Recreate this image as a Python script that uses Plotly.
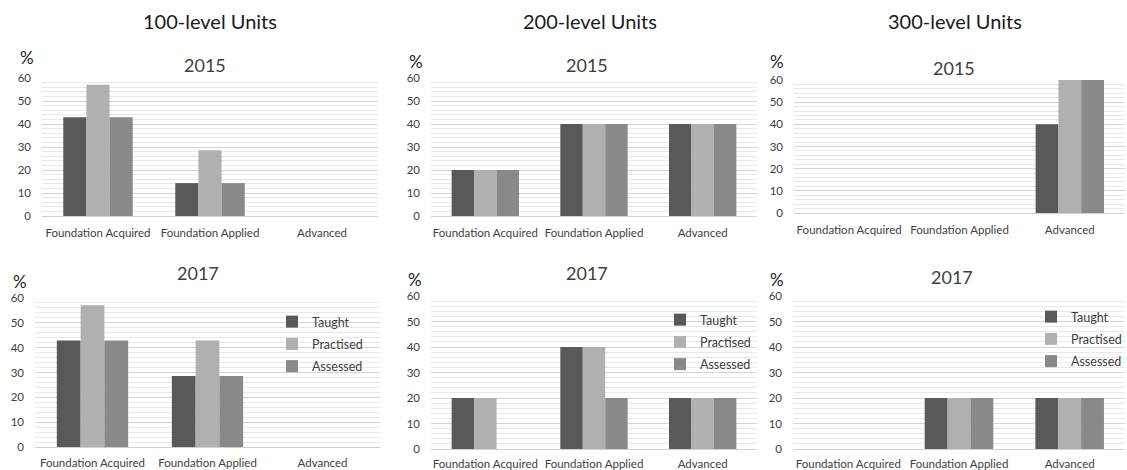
import plotly.graph_objects as go

W, H = 1127, 470
OFF = 0  # body margin removed below via post_script

categories = ["Foundation Acquired", "Foundation Applied", "Advanced"]
series_names = ["Taught", "Practised", "Assessed"]
series_colors = ["#595959", "#b0b0b0", "#898989"]
level_titles = ["100-level Units", "200-level Units", "300-level Units"]
year_titles = ["2015", "2017"]
y_ticks = [0, 10, 20, 30, 40, 50, 60]

# 100-level, 2015
taught_100_2015 = [42.9, 14.3, 0]
practised_100_2015 = [57.1, 28.6, 0]
assessed_100_2015 = [42.9, 14.3, 0]
# 200-level, 2015
taught_200_2015 = [20, 40, 40]
practised_200_2015 = [20, 40, 40]
assessed_200_2015 = [20, 40, 40]
# 300-level, 2015
taught_300_2015 = [0, 0, 40]
practised_300_2015 = [0, 0, 60]
assessed_300_2015 = [0, 0, 60]
# 100-level, 2017
taught_100_2017 = [42.9, 28.6, 0]
practised_100_2017 = [57.1, 42.9, 0]
assessed_100_2017 = [42.9, 28.6, 0]
# 200-level, 2017
taught_200_2017 = [20, 40, 20]
practised_200_2017 = [20, 40, 20]
assessed_200_2017 = [0, 20, 20]
# 300-level, 2017
taught_300_2017 = [0, 20, 20]
practised_300_2017 = [0, 20, 20]
assessed_300_2017 = [0, 20, 20]

panels = [
    [taught_100_2015, practised_100_2015, assessed_100_2015],
    [taught_200_2015, practised_200_2015, assessed_200_2015],
    [taught_300_2015, practised_300_2015, assessed_300_2015],
    [taught_100_2017, practised_100_2017, assessed_100_2017],
    [taught_200_2017, practised_200_2017, assessed_200_2017],
    [taught_300_2017, practised_300_2017, assessed_300_2017],
]


def px(x):
    return (x - OFF) / W


def py(y):
    return 1 - (y - OFF) / H


# pixel boxes in the screenshot: (left, right, top, bottom)
boxes = [
    (42, 378, 78, 216),
    (431, 757, 78, 216),
    (794, 1125, 80, 213),
    (35, 380, 298, 447),
    (431, 757, 296, 449),
    (793, 1125, 296, 449),
]
x_standoff = [8, 8, 8, 7, 6, 6]

FONT = "Lato"
TXT = "#404040"

fig = go.Figure()
legend_ids = [None, None, None, "legend", "legend2", "legend3"]

for i, vals in enumerate(panels):
    ax = "" if i == 0 else str(i + 1)
    for s, name in enumerate(series_names):
        kw = dict(
            x=categories, y=vals[s], name=name,
            marker=dict(color=series_colors[s], line=dict(width=0)),
            xaxis="x" + ax, yaxis="y" + ax,
            showlegend=legend_ids[i] is not None,
            legendgroup=f"g{i}_{s}",
        )
        if legend_ids[i] is not None:
            kw["legend"] = legend_ids[i]
        fig.add_trace(go.Bar(**kw))

layout = dict(
    width=W, height=H, margin=dict(l=0, r=0, t=0, b=0, autoexpand=False),
    paper_bgcolor="white", plot_bgcolor="white",
    barmode="group", bargap=0.38, bargroupgap=0,
    font=dict(family=FONT, color=TXT),
)

annotations = []
for i, (l, r, t, b) in enumerate(boxes):
    ax = "" if i == 0 else str(i + 1)
    layout["xaxis" + ax] = dict(
        domain=[px(l), px(r)], anchor="y" + ax, automargin=False,
        type="category", showgrid=False, showline=False, zeroline=False,
        ticks="", ticklabelstandoff=x_standoff[i],
        tickfont=dict(size=11.5, color=TXT, family=FONT),
        fixedrange=True,
    )
    layout["yaxis" + ax] = dict(
        domain=[py(b), py(t)], anchor="x" + ax, automargin=False,
        range=[0, 60], tickvals=y_ticks,
        showgrid=True, gridcolor="#d4d4d4", gridwidth=1,
        minor=dict(dtick=2, showgrid=True, gridcolor="#e8e8e8", gridwidth=1),
        zeroline=True, zerolinecolor="#d0d0d0", zerolinewidth=1,
        showline=False, ticks="", ticklabelstandoff=10,
        tickfont=dict(size=11.5, color=TXT, family=FONT),
        fixedrange=True,
    )

# column (level) titles
for cx, txt in zip([210, 590, 955], level_titles):
    annotations.append(dict(x=px(cx), y=py(21), xref="paper", yref="paper",
                            text=txt, showarrow=False, xanchor="center", yanchor="middle",
                            font=dict(size=20, color="#1a1a1a", family=FONT)))

# year titles
year_pos = [(205, 65), (587, 65), (954, 68), (198, 273), (587, 273), (952, 277)]
for i, (cx, cy) in enumerate(year_pos):
    annotations.append(dict(x=px(cx), y=py(cy), xref="paper", yref="paper",
                            text=year_titles[i // 3], showarrow=False,
                            xanchor="center", yanchor="middle",
                            font=dict(size=18, color="#404040", family=FONT)))

# "%" labels
pct_pos = [(27, 58), (416, 61), (777, 61), (20, 281), (415, 279), (777, 279)]
for cx, cy in pct_pos:
    annotations.append(dict(x=px(cx), y=py(cy), xref="paper", yref="paper",
                            text="%", showarrow=False, xanchor="center", yanchor="middle",
                            font=dict(size=17, color="#1a1a1a", family=FONT)))

layout["annotations"] = annotations

leg_common = dict(
    xanchor="left", yanchor="top", bgcolor="rgba(0,0,0,0)",
    font=dict(size=12.5, color=TXT, family=FONT),
    itemwidth=30, tracegroupgap=3, traceorder="grouped",
)
leg_pos = [(272, 307), (660, 305), (1031, 302)]
for key, (lx, ly) in zip(["legend", "legend2", "legend3"], leg_pos):
    layout[key] = dict(x=px(lx), y=py(ly), **leg_common)

fig.update_layout(**layout)
fig.write_html(
    "out.html",
    config={"displayModeBar": False},
    post_script="document.body.style.margin='0';document.body.style.overflow='hidden';",
)
